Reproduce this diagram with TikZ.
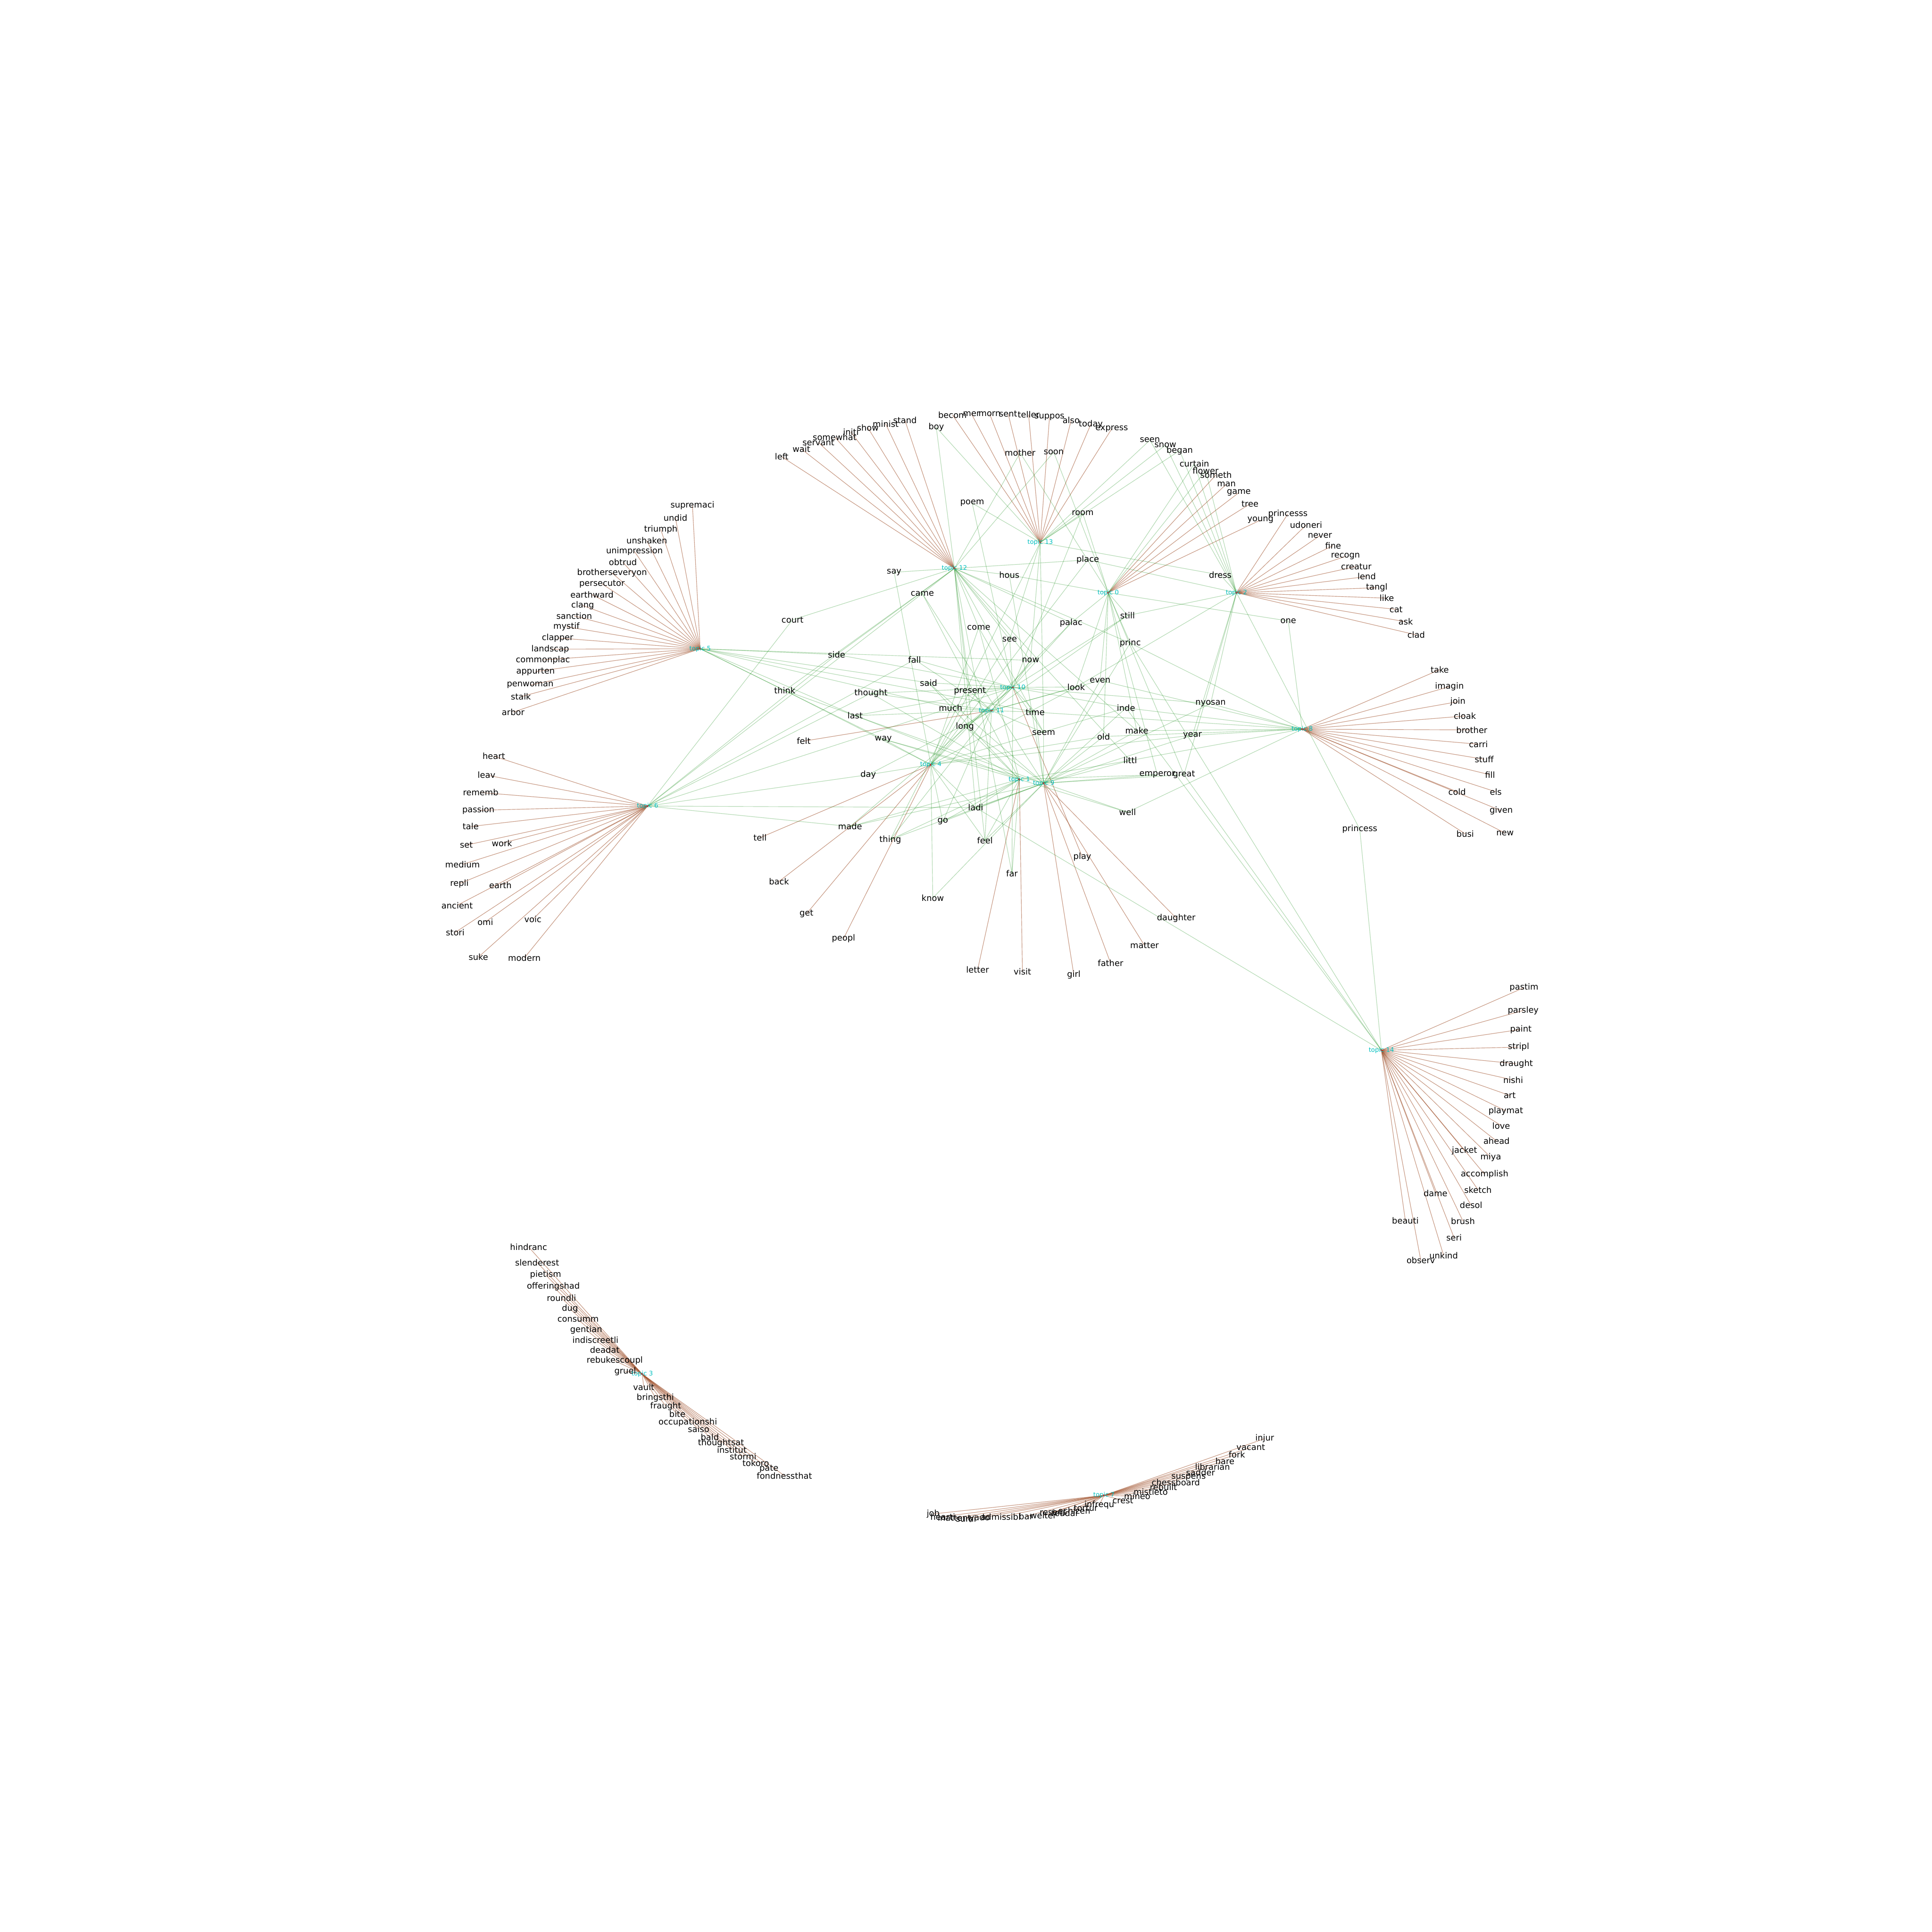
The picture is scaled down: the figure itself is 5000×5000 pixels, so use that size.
\documentclass[tikz,border=0pt]{standalone}
\usepackage{fontspec}
\setmainfont{DejaVu Sans}
\usetikzlibrary{backgrounds}
\definecolor{topiccyan}{RGB}{0,191,191}
\definecolor{ownedge}{RGB}{160,82,45}
\definecolor{sharededge}{RGB}{0,128,0}
\tikzset{
  word/.style   = {font=\fontsize{6.2}{7}\selectfont,inner sep=0pt,text=black},
  topic/.style  = {font=\fontsize{4.6}{5}\selectfont,inner sep=0pt,text=topiccyan},
  own/.style    = {draw=ownedge,draw opacity=0.6,line width=0.4pt},
  shared/.style = {draw=sharededge,draw opacity=0.3,line width=0.4pt},
  topicdot/.style = {fill=red},
}

\begin{document}
\begin{tikzpicture}[x=0.01cm,y=-0.01cm]
  \useasboundingbox (0,0) rectangle (5000,5000);
  % topics
  \foreach \n/\x/\y in {0/2868/1534, 1/2638/2017, 2/3200/1534, 3/1662/3556,
      4/2409/1979, 5/1812/1679, 6/1676/2086, 7/2857/3870, 8/3370/1887,
      9/2701/2027, 10/2621/1779, 11/2566/1839, 12/2470/1471, 13/2692/1404,
      14/3575/2718}{
    \fill[topicdot] (\x,\y) circle[radius=0.25mm];
    \node[topic] (t\n) at (\x,\y) {topic \n};
  }
  % words of one topic only
  \foreach \t/\w/\x/\y in {
      5/supremaci/1792/1308, 5/undid/1748/1340, 5/triumph/1710/1370,
      5/unshaken/1674/1399, 5/unimpression/1642/1427, 5/obtrud/1612/1455,
      5/brotherseveryon/1584/1483, 5/persecutor/1558/1511, 5/earthward/1532/1539,
      5/clang/1508/1567, 5/sanction/1486/1594, 5/mystif/1466/1622,
      5/clapper/1443/1651, 5/landscap/1424/1680, 5/commonplac/1405/1708,
      5/appurten/1386/1738, 5/penwoman/1372/1773, 5/stalk/1348/1803,
      5/arbor/1328/1843,
      6/heart/1278/1957, 6/leav/1259/2006, 6/rememb/1244/2051,
      6/passion/1238/2097, 6/tale/1218/2139, 6/set/1207/2187, 6/work/1299/2182,
      6/medium/1197/2237, 6/repli/1189/2287, 6/earth/1295/2291,
      6/ancient/1183/2343, 6/omi/1256/2386, 6/stori/1178/2413, 6/voic/1379/2379,
      6/suke/1238/2477, 6/modern/1357/2479,
      12/left/2023/1182, 12/wait/2074/1162, 12/servant/2118/1145,
      12/somewhat/2160/1131, 12/initi/2202/1118, 12/show/2246/1107,
      12/minist/2292/1097, 12/stand/2342/1088,
      13/becom/2465/1074, 13/mer/2514/1071, 13/morn/2561/1071, 13/sent/2609/1071,
      13/teller/2662/1073, 13/suppos/2716/1080, 13/also/2772/1088,
      13/today/2823/1098, 13/express/2877/1110,
      0/someth/3147/1229, 0/man/3174/1253, 0/game/3206/1275, 0/tree/3235/1304,
      0/young/3262/1346,
      2/princesss/3333/1330, 2/udoneri/3380/1359, 2/never/3416/1386,
      2/fine/3450/1412, 2/recogn/3482/1440, 2/creatur/3510/1466,
      2/lend/3537/1492, 2/tangl/3563/1521, 2/like/3589/1548, 2/cat/3613/1577,
      2/ask/3638/1609, 2/clad/3665/1643,
      8/take/3726/1733, 8/imagin/3751/1777, 8/join/3773/1816, 8/cloak/3791/1853,
      8/brother/3809/1889, 8/carri/3826/1926, 8/stuff/3841/1965, 8/fill/3856/2005,
      8/cold/3771/2049, 8/els/3871/2049, 8/given/3885/2098, 8/busi/3792/2158,
      8/new/3895/2156,
      14/pastim/3944/2556, 14/parsley/3942/2615, 14/paint/3936/2664,
      14/stripl/3930/2710, 14/draught/3924/2753, 14/nishi/3916/2795,
      14/art/3907/2835, 14/playmat/3897/2875, 14/love/3885/2913,
      14/ahead/3873/2953, 14/jacket/3790/2978, 14/miya/3858/2995,
      14/accomplish/3842/3039, 14/sketch/3825/3079, 14/dame/3715/3088,
      14/desol/3807/3119, 14/beauti/3637/3159, 14/brush/3786/3160,
      14/seri/3763/3203, 14/unkind/3736/3249, 14/observ/3677/3262,
      3/hindranc/1368/3227, 3/slenderest/1390/3267, 3/pietism/1412/3299,
      3/offeringshad/1432/3330, 3/roundli/1453/3359, 3/dug/1475/3387,
      3/consumm/1496/3415, 3/gentian/1517/3442, 3/indiscreetli/1541/3468,
      3/deadat/1565/3494, 3/rebukescoupl/1591/3521, 3/gruel/1618/3549,
      3/vault/1666/3590, 3/bringsthi/1696/3617, 3/fraught/1723/3639,
      3/bite/1753/3660, 3/occupationshi/1780/3681, 3/saiso/1808/3699,
      3/bald/1837/3719, 3/thoughtsat/1866/3735, 3/institut/1894/3752,
      3/stormi/1923/3769, 3/tokoro/1956/3786, 3/pate/1990/3801,
      3/fondnessthat/2030/3819,
      7/injur/3273/3723, 7/vacant/3237/3746, 7/fork/3201/3764, 7/hare/3170/3781,
      7/librarian/3138/3796, 7/sadder/3107/3811, 7/suspens/3076/3824,
      7/chessboard/3043/3837, 7/rebuilt/3011/3849, 7/mistleto/2978/3861,
      7/mineo/2943/3872, 7/crest/2906/3883, 7/infrequ/2845/3895,
      7/tortur/2810/3903, 7/echizen/2780/3910, 7/feudal/2755/3916,
      7/resent/2725/3914, 7/welter/2700/3922, 7/bar/2655/3924,
      7/admissibl/2590/3926, 7/yado/2535/3929, 7/sumi/2500/3930,
      7/inattent/2470/3928, 7/hearti/2440/3925, 7/job/2415/3918,
      4/tell/1967/2168, 4/back/2016/2281, 4/get/2087/2365, 4/peopl/2183/2429,
      1/letter/2530/2510, 1/visit/2646/2514,
      9/girl/2779/2523, 9/father/2874/2492, 9/matter/2962/2447,
      9/daughter/3044/2376,
      10/play/2801/2218, 11/felt/2080/1918}{
    \node[word] (w\w) at (\x,\y) {\w};
    \begin{pgfonlayer}{background}
      \draw[own] (t\t.center) -- (w\w.center);
    \end{pgfonlayer}
  }
  % words shared by several topics
  \foreach \w/\x/\y/\ts in {
      say/2314/1481/{12,4}, hous/2612/1488/{12,0,9}, came/2387/1536/{12,6,1,9},
      boy/2423/1106/{12,13}, mother/2640/1172/{12,0}, soon/2727/1170/{12,0},
      poem/2516/1302/{13,10}, room/2802/1328/{13,10,0},
      seen/2976/1139/{13,2}, snow/3016/1152/{13,2}, began/3053/1166/{13,2},
      curtain/3091/1200/{0,2}, flower/3120/1218/{0,2},
      place/2815/1449/{12,2,4}, dress/3158/1488/{13,2}, one/3334/1607/{0,8},
      still/2918/1593/{2,0,10,11}, princ/2925/1664/{0,8,12,9,14},
      palac/2772/1612/{0,11,4,12}, court/2051/1604/{12,6},
      come/2533/1624/{12,10,4,1}, see/2613/1655/{10,12,13,4},
      side/2165/1694/{5,6,12,10}, fall/2367/1707/{6,10,11},
      now/2667/1709/{5,10,11,12,13}, said/2403/1767/{5,10,9,1},
      look/2785/1778/{10,11,0,2,4}, even/2847/1761/{0,8,9,11},
      think/2031/1787/{5,4,9,12}, thought/2254/1794/{10,11,6,1},
      present/2510/1789/{10,11,12,4}, much/2460/1832/{11,10,6,5},
      time/2679/1843/{10,11,5,8,9}, last/2213/1852/{11,10,5,1},
      long/2497/1880/{11,10,4,1,9}, seem/2701/1896/{10,11,12,9,13},
      way/2286/1913/{5,4,1,9}, inde/2914/1832/{8,9,10,4,14},
      nyosan/3133/1821/{2,8,9,10}, make/2942/1891/{0,8,9,12},
      old/2856/1906/{0,8,9,4}, year/3086/1903/{2,8,9,4},
      day/2247/2005/{4,6,11}, littl/2925/1968/{9,1,8,12},
      emperor/2995/2005/{9,1,0}, great/3064/2005/{9,0,2,14},
      ladi/2525/2090/{6,1,9,4,12,14}, well/2918/2102/{9,1,8},
      go/2440/2126/{9,1,11,4}, made/2200/2139/{6,9,1,10},
      thing/2304/2173/{1,9,11,13}, feel/2549/2175/{9,1,11,4,12},
      far/2619/2261/{1,12,10}, know/2414/2324/{4,9},
      princess/3519/2146/{2,14}}{
    \node[word] (w\w) at (\x,\y) {\w};
    \begin{pgfonlayer}{background}
      \foreach \t in \ts {\draw[shared] (t\t.center) -- (w\w.center);}
    \end{pgfonlayer}
  }
\end{tikzpicture}
\end{document}
